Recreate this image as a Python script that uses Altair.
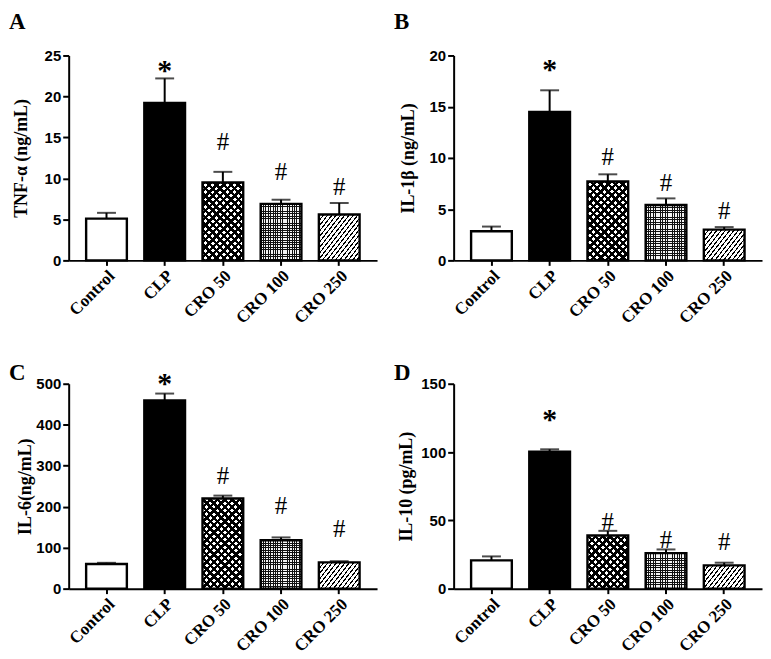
import math
import altair as alt
import pandas as pd

# ---------------- data ----------------
groups = ["Control", "CLP", "CRO 50", "CRO 100", "CRO 250"]
marks = ["", "*", "#", "#", "#"]

tnf_mean = [5.1, 19.2, 9.5, 6.9, 5.6]
tnf_upper = [5.8, 22.2, 10.8, 7.4, 7.0]
tnf_mark_y = [0, 23.4, 14.4, 10.8, 8.9]

il1b_mean = [2.85, 14.5, 7.7, 5.4, 3.0]
il1b_upper = [3.3, 16.6, 8.4, 6.05, 3.25]
il1b_mark_y = [0, 18.8, 10.1, 7.5, 4.8]

il6_mean = [60, 459, 220, 118, 64]
il6_upper = [63, 476, 227, 125, 67]
il6_mark_y = [0, 504, 274, 202, 146]

il10_mean = [20.7, 100.2, 38.9, 26.0, 17.0]
il10_upper = [23.6, 102.0, 42.3, 28.7, 19.0]
il10_mark_y = [0, 125, 48.8, 35.7, 34.2]

panel_letters = ["A", "B", "C", "D"]
y_titles = ["TNF-α (ng/mL)", "IL-1β (ng/mL)", "IL-6(ng/mL)", "IL-10 (pg/mL)"]
y_max = [25, 20, 500, 150]
y_step = [5, 5, 100, 50]

# ---------------- layout / style ----------------
W, H = 310, 206
PI, PO = 0.3, 0.3
BW = W / (len(groups) - PI + 2 * PO) * (1 - PI)
title_pads = [14, 12, 1, 5]
letter_y = [-27, -27, -4, -4]
LETTER_X = -60


def stripes(w, h, angle_deg, period, line_w, line_color, bg_color, phase=0.0):
    """Linear gradient (objectBoundingBox units) that draws parallel stripes
    at angle_deg on a w x h pixel rectangle."""
    a = math.radians(angle_deg)
    al, be = math.sin(a), math.cos(a)
    corners = [(0, 0), (w, 0), (0, h), (w, h)]
    fs = [al * cx + be * cy for cx, cy in corners]
    c0 = min(fs)
    R = max(fs) - c0
    i0 = fs.index(c0)
    p1 = (corners[i0][0] / w, corners[i0][1] / h)
    denom = al * al * w * w + be * be * h * h
    k = R / denom
    p2 = (p1[0] + k * al * w, p1[1] + k * be * h)
    intervals = []
    s = phase - period
    while s < R:
        a0, b0 = max(s, 0.0), min(s + line_w, R)
        if b0 > a0:
            intervals.append((a0, b0))
        s += period
    stops = []
    cur = 0.0
    for a0, b0 in intervals:
        if a0 > cur:
            stops += [(cur, bg_color), (a0, bg_color)]
        stops += [(a0, line_color), (b0, line_color)]
        cur = b0
    if cur < R:
        stops += [(cur, bg_color), (R, bg_color)]
    return {
        "gradient": "linear",
        "x1": p1[0], "y1": p1[1], "x2": p2[0], "y2": p2[1],
        "stops": [{"offset": round(o / R, 5), "color": c} for o, c in stops],
    }


CLEAR = "rgba(0,0,0,0)"


def fill_specs(group, w, h):
    if group == "Control":
        return ["white"]
    if group == "CLP":
        return ["black"]
    if group == "CRO 50":
        return [stripes(w, h, 45, 5.2, 2.4, "black", "white"),
                stripes(w, h, 135, 5.2, 2.4, "black", CLEAR)]
    if group == "CRO 100":
        return [stripes(w, h, 90, 2.4, 0.9, "#111111", "#f4f4f4"),
                stripes(w, h, 0, 2.4, 0.9, "#111111", CLEAR)]
    return [stripes(w, h, 52, 3.4, 1.1, "black", "white")]


def panel(i, mean, upper, mark_y):
    df = pd.DataFrame({"group": groups, "mean": mean, "upper": upper,
                       "mark": marks, "mark_y": mark_y})
    x = alt.X("group:N", sort=groups,
              scale=alt.Scale(paddingInner=PI, paddingOuter=PO),
              axis=alt.Axis(title=None))
    yscale = alt.Scale(domain=[0, y_max[i]], nice=False, zero=True)
    yaxis = alt.Axis(values=list(range(0, y_max[i] + 1, y_step[i])),
                     title=y_titles[i], titlePadding=title_pads[i])

    def Y(field):
        return alt.Y(field, scale=yscale, axis=yaxis)

    base = alt.Chart(df)
    layers = []
    for g, m in zip(groups, mean):
        h = m / y_max[i] * H
        for f in fill_specs(g, BW, h):
            layers.append(
                base.transform_filter(alt.datum.group == g)
                .mark_bar(fill=f, strokeWidth=0)
                .encode(x=x, y=Y("mean:Q"))
            )
    layers.append(base.mark_bar(fillOpacity=0, stroke="black", strokeWidth=2.4)
                  .encode(x=x, y=Y("mean:Q")))
    layers.append(base.mark_rule(color="black", strokeWidth=2)
                  .encode(x=x, y=Y("mean:Q"), y2="upper:Q"))
    layers.append(base.mark_tick(color="black", thickness=2, size=19)
                  .encode(x=x, y=Y("upper:Q")))
    layers.append(base.transform_filter(alt.datum.mark == "#")
                  .mark_text(font="Liberation Serif", fontSize=25, baseline="middle",
                             align="center", color="black")
                  .encode(x=x, y=Y("mark_y:Q"), text="mark:N"))
    layers.append(base.transform_filter(alt.datum.mark == "*")
                  .mark_text(font="Liberation Serif", fontSize=30, fontWeight="bold",
                             baseline="middle", align="center", color="black", dy=2)
                  .encode(x=x, y=Y("mark_y:Q"), text="mark:N"))
    letter = alt.Chart(pd.DataFrame({"letter": [panel_letters[i]]})).mark_text(
        font="Liberation Serif", fontSize=23, fontWeight="bold", align="left",
        baseline="alphabetic", color="black"
    ).encode(x=alt.value(LETTER_X), y=alt.value(letter_y[i]), text="letter:N")
    layers.append(letter)
    return alt.layer(*layers).properties(width=W, height=H)


panels = [
    panel(0, tnf_mean, tnf_upper, tnf_mark_y),
    panel(1, il1b_mean, il1b_upper, il1b_mark_y),
    panel(2, il6_mean, il6_upper, il6_mark_y),
    panel(3, il10_mean, il10_upper, il10_mark_y),
]

chart = (
    alt.concat(*panels, columns=2, spacing={"row": 34, "column": 15})
    .properties(padding={"left": 0, "top": 0, "right": 0, "bottom": 0})
    .configure_view(stroke="transparent")
    .configure_axis(
        domainColor="black", domainWidth=2, tickColor="black", tickWidth=2,
        grid=False, labelColor="black", titleColor="black",
    )
    .configure_axisX(
        labelFont="Liberation Serif", labelFontWeight="bold", labelFontSize=17,
        labelAngle=315, labelAlign="right", labelBaseline="top",
        tickSize=5, labelPadding=2,
    )
    .configure_axisY(
        labelFont="Liberation Sans", labelFontWeight="bold", labelFontSize=15,
        tickSize=6, labelPadding=2,
        titleFont="Liberation Serif", titleFontWeight="bold", titleFontSize=18,
    )
)

chart.save("out.html", embed_options={"renderer": "svg", "actions": False})
